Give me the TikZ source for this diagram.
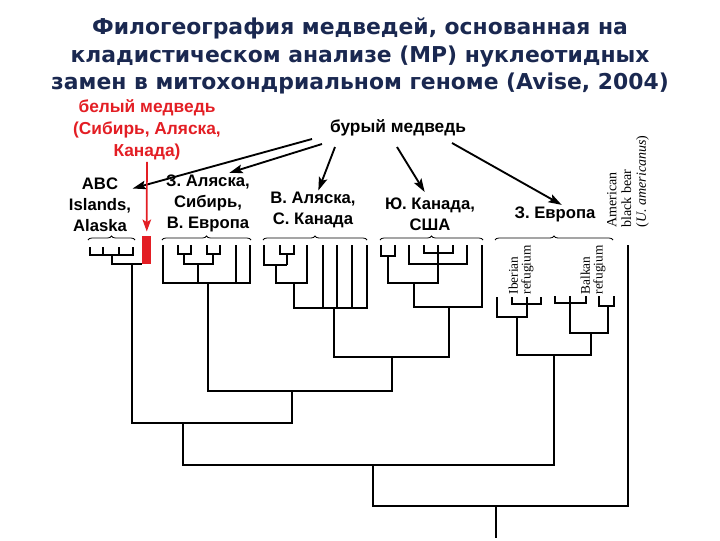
\documentclass[tikz,border=0pt]{standalone}
\usepackage{fontspec}
\setmainfont{Liberation Sans}
\newfontfamily\titlefont{DejaVu Sans}
\newfontfamily\bookfont{Liberation Serif}
\usetikzlibrary{arrows.meta, decorations.pathreplacing}
\definecolor{titleblue}{HTML}{1A2850}
\definecolor{polarred}{HTML}{E31E24}

\begin{document}
\begin{tikzpicture}[
    x=0.75pt, y=-0.75pt,
    every node/.style={inner sep=1pt},
    headline/.style={font=\titlefont\bfseries\fontsize{16.4}{20.4}\selectfont,
        text=titleblue, align=center},
    region/.style={font=\bfseries\fontsize{12.5}{15.75}\selectfont, align=center},
    polarlbl/.style={font=\bfseries\fontsize{13}{16.5}\selectfont, align=center,
        text=polarred},
    refuge/.style={font=\bookfont\fontsize{10}{9.5}\selectfont, align=left,
        rotate=90, anchor=west},
    polarbar/.style={fill=polarred, minimum width=6.75pt, minimum height=21pt,
        inner sep=0pt},
    flow/.style={-{Stealth[length=10pt, width=6.5pt, inset=2pt]}, line width=1.4pt},
    redflow/.style={-{Stealth[length=9pt, width=6.5pt, inset=2pt]}, line width=1.3pt,
        polarred},
    branch/.style={line width=1.3pt},
    brc/.style={decorate, decoration={brace, amplitude=3pt}, line width=0.6pt},
]
\useasboundingbox (0,0) rectangle (720,540);

% ===== Title =====
\node[headline] (title) at (360,56)
    {Филогеография медведей, основанная на\\
     кладистическом анализе (MP) нуклеотидных\\
     замен в митохондриальном геноме (Avise, 2004)};

% ===== Labels =====
\node[region, font=\bfseries\fontsize{13}{16}\selectfont] (brown) at (398,128) {бурый медведь};
\node[polarlbl] (polar) at (147,130) {белый медведь\\(Сибирь, Аляска,\\Канада)};

\node[region] (abc) at (100,205) {ABC\\Islands,\\Alaska};
\node[region] (zal) at (208,203) {З. Аляска,\\Сибирь,\\В. Европа};
\node[region] (vak) at (313,210) {В. Аляска,\\С. Канада};
\node[region] (uka) at (430,214) {Ю. Канада,\\США};
\node[region] (zev) at (555,214) {З. Европа};

\node[refuge] (iber) at (521,296) {Iberian\\refugium};
\node[refuge] (balk) at (593,296) {Balkan\\refugium};
\node[refuge, font=\bookfont\fontsize{10.5}{11}\selectfont] (amer) at (628,229)
    {American\\black bear\\(\textit{U. americanus})};

% ===== Arrows from brown bear =====
\coordinate (b1) at (312,139);
\coordinate (b2) at (322,144);
\coordinate (b3) at (335,147);
\coordinate (b4) at (397,147);
\coordinate (b5) at (452,143);

\draw[flow] (b1) -- ([yshift=-9pt]abc.north east);
\draw[flow] (b2) -- ([xshift=16pt]zal.north);
\draw[flow] (b3) -- ([xshift=4pt]vak.north);
\draw[flow] (b4) -- ([xshift=-4pt,yshift=3pt]uka.north);
\draw[flow] (b5) -- ([xshift=5pt]zev.north);

% ===== Polar bear =====
\node[polarbar, anchor=south west] (pbar) at (142,264) {};
\draw[redflow] (polar) -- ([yshift=3pt]pbar.north);

% ===== Braces =====
\draw[brc] (88,240) -- (135,240);
\draw[brc] (162,240) -- (251,240);
\draw[brc] (263,240) -- (367,240);
\draw[brc] (380,240) -- (483,240);
\draw[brc] (495,240) -- (613,240);

% ===== ABC Islands =====
\draw[branch] (90,247) |- (133,255) -- (133,247);
\draw[branch] (103,247) -- (103,255) (119,247) -- (119,255);
\draw[branch] (112,255) -- (112,264) -- (pbar.south west);
\coordinate (abcr) at (132,264);

% ===== W Alaska, Siberia, E Europe =====
\draw[branch] (163,245) |- (250,283) -- (250,245);
\draw[branch] (236,245) -- (236,283);
\draw[branch] (178,245) |- (191,254) -- (191,245);
\draw[branch] (207,245) |- (220,254) -- (220,245);
\draw[branch] (184,254) |- (213,264) -- (213,254);
\draw[branch] (198,264) -- (198,283);
\coordinate (zalr) at (208,283);

% ===== E Alaska, N Canada =====
\draw[branch] (264,245) |- (287,265);
\draw[branch] (280,245) |- (294,254) -- (294,245);
\draw[branch] (287,254) -- (287,265);
\draw[branch] (276,265) |- (307,283) -- (307,245);
\draw[branch] (294,283) |- (367,308) -- (367,245);
\foreach \x in {323,337,352}
    \draw[branch] (\x,245) -- (\x,308);
\coordinate (vakr) at (334,308);

% ===== S Canada, USA =====
\draw[branch] (381,245) |- (395,256) -- (395,245);
\draw[branch] (409,245) |- (467,264) -- (467,245);
\draw[branch] (424,245) |- (453,253) -- (453,245);
\draw[branch] (438,245) -- (438,283) -| (388,256);
\draw[branch] (414,283) |- (482,307) -- (482,245);
\coordinate (ukar) at (449,307);

% ===== W Europe =====
\draw[branch] (497,297) |- (527,317) -- (527,297);
\draw[branch] (512,297) |- (541,304) -- (541,297);
\draw[branch] (555,296) |- (586,303) -- (586,296);
\draw[branch] (570,296) -- (570,333) -| (608,306);
\draw[branch] (599,296) |- (614,306) -- (614,296);
\draw[branch] (517,317) |- (591,355) -- (591,333);
\coordinate (zevr) at (554,355);

\coordinate (ambr) at (628,245);

% ===== Deep branches =====
\coordinate (j1) at (392,357);
\coordinate (j2) at (292,391);
\coordinate (j3) at (183,423);
\coordinate (j4) at (373,465);
\coordinate (j5) at (496,506);
\coordinate (root) at (496,538);

\draw[branch] (vakr) |- (j1) -| (ukar);
\draw[branch] (zalr) |- (j2) -| (j1);
\draw[branch] (abcr) |- (j3) -| (j2);
\draw[branch] (j3) |- (j4) -| (zevr);
\draw[branch] (j4) |- (j5) -| (ambr);
\draw[branch] (j5) -- (root);

\end{tikzpicture}
\end{document}
